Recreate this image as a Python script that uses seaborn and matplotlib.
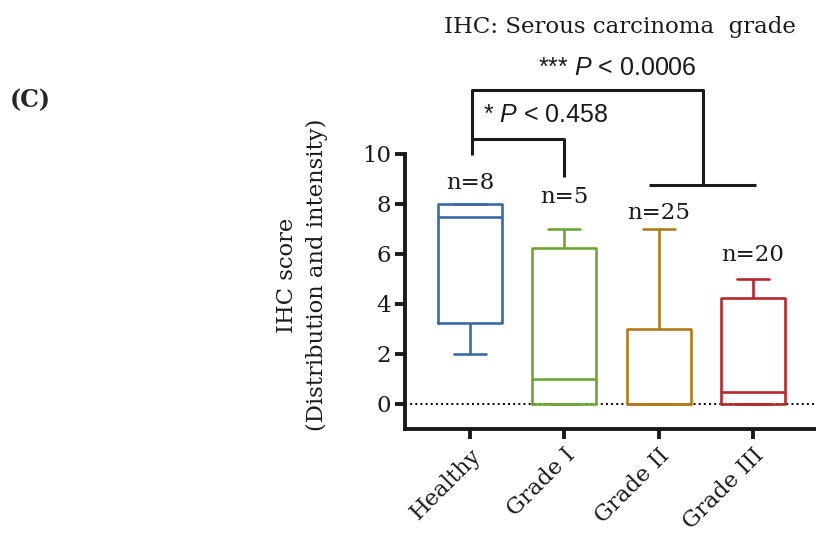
import numpy as np
import pandas as pd
import matplotlib
matplotlib.use("Agg")
import matplotlib.pyplot as plt
import seaborn as sns

categories = ["Healthy", "Grade I", "Grade II", "Grade III"]
# five-number summaries: min, Q1, median, Q3, max
healthy = [2, 3.25, 7.5, 8, 8]
grade1 = [0, 0, 1, 6.25, 7]
grade2 = [0, 0, 0, 3, 7]
grade3 = [0, 0, 0.5, 4.25, 5]
n_labels = ["n=8", "n=5", "n=25", "n=20"]
n_label_y = [8.84, 8.28, 7.64, 5.96]
colors = ["#3a6aa6", "#6ea636", "#b27a1c", "#b3292e"]
y_ticks = [0, 2, 4, 6, 8, 10]

df = pd.DataFrame({
    "group": np.repeat(categories, 5),
    "score": healthy + grade1 + grade2 + grade3,
})

sns.set_style("ticks")
plt.rcParams["font.family"] = ["DejaVu Serif"]
plt.rcParams["mathtext.fontset"] = "custom"
plt.rcParams["mathtext.it"] = "Liberation Sans:italic"
plt.rcParams["mathtext.rm"] = "Liberation Sans"

fig = plt.figure(figsize=(8.16, 5.37), dpi=100)
ax = fig.add_axes([405 / 816, 1 - 429 / 537, 1 - 405 / 816, (429 - 154) / 537])

sns.boxplot(data=df, x="group", y="score", hue="group", order=categories,
            palette=colors, fill=False, whis=(0, 100), width=0.68,
            linewidth=1.9, legend=False, ax=ax, showfliers=False)

ax.axhline(0, color="black", linestyle=":", linewidth=1.4, zorder=0)

ax.set_xlim(-0.69, 3.67)
ax.set_ylim(-1, 10)
ax.set_yticks(y_ticks)
ax.set_yticklabels([str(t) for t in y_ticks], fontsize=16.5, color="#1a1a1a")
ax.set_xticks(range(len(categories)))
ax.set_xticklabels(categories, fontsize=16.3, rotation=45, ha="right",
                   rotation_mode="anchor", color="#1a1a1a")
ax.set_xlabel("")
ax.set_ylabel("")
for s in ["top", "right"]:
    ax.spines[s].set_visible(False)
for s in ["left", "bottom"]:
    ax.spines[s].set_linewidth(2.8)
    ax.spines[s].set_color("#1a1a1a")
ax.spines["left"].set_bounds(-1, 10)
ax.tick_params(axis="both", width=2.8, length=7, color="#1a1a1a", pad=3)
ax.tick_params(axis="x", pad=4)

for i, (lab, yy) in enumerate(zip(n_labels, n_label_y)):
    ax.text(i, yy, lab, ha="center", va="center", fontsize=16.5, color="#1a1a1a")

# significance brackets
kw = dict(color="#1a1a1a", linewidth=2.2, clip_on=False, solid_capstyle="butt")
ax.plot([0.02, 0.02, 1.0, 1.0], [9.95, 10.6, 10.6, 9.08], **kw)
ax.plot([0.02, 0.02, 2.47, 2.47], [10.6, 12.56, 12.56, 8.76], **kw)
ax.plot([1.90, 3.03], [8.76, 8.76], **kw)

sans = ["Liberation Sans", "DejaVu Sans"]
ax.text(0.14, 11.55, r"* $\it{P}$ < 0.458", ha="left", va="center",
        fontsize=18, family=sans, color="#1a1a1a")
ax.text(1.56, 13.45, r"*** $\it{P}$ < 0.0006", ha="center", va="center",
        fontsize=18, family=sans, color="#1a1a1a")

fig.text(620 / 816, 1 - 27 / 537, "IHC: Serous carcinoma  grade",
         ha="center", va="center", fontsize=16.5, color="#1a1a1a")
fig.text(30 / 816, 1 - 100 / 537, "(C)", ha="center", va="center",
         fontsize=17, fontweight="bold")
fig.text(302 / 816, 1 - 275 / 537, "IHC score\n(Distribution and intensity)",
         ha="center", va="center", rotation=90, fontsize=16.3,
         linespacing=1.45, color="#1a1a1a")

fig.savefig("out.png", dpi=100)
